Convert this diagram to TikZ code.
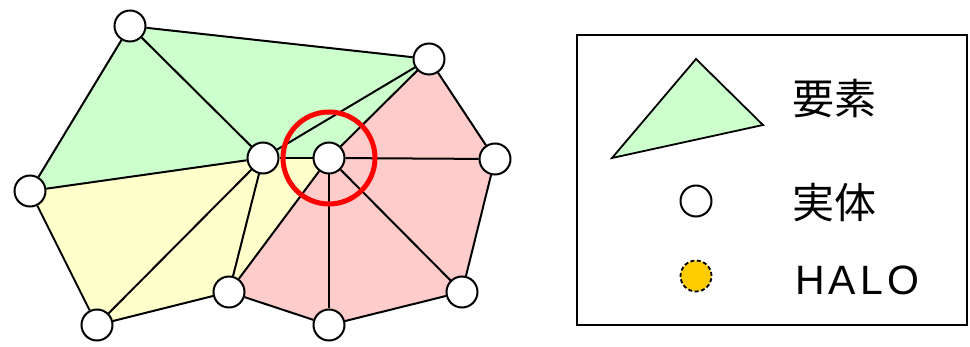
\documentclass[tikz,border=0pt]{standalone}
\usepackage{fontspec}
\newfontfamily\cjk{Noto Sans CJK JP}
\newfontfamily\halofont[LetterSpace=10]{Liberation Sans}
\usetikzlibrary{backgrounds}
\definecolor{elgreen}{HTML}{CCFFCC}
\definecolor{elyellow}{HTML}{FFFFCC}
\definecolor{elred}{HTML}{FFCCCC}
\definecolor{halo}{HTML}{FFCC00}
\tikzset{
  ent/.style={circle,draw=black,fill=white,line width=2pt,minimum size=31pt,inner sep=0pt},
  edge/.style={draw=black,line width=2pt},
  legtext/.style={anchor=west,inner sep=0pt,font=\cjk\fontsize{42}{46}\selectfont},
}
\begin{document}
\begin{tikzpicture}[x=1pt,y=-1pt]
\useasboundingbox (0,0) rectangle (970,347);
% entities
\node[ent] (A) at (130,26) {};
\node[ent] (B) at (429,59) {};
\node[ent] (C) at (30,191) {};
\node[ent] (D) at (263,158) {};
\node[ent] (E) at (329,158) {};
\node[ent] (F) at (495,159) {};
\node[ent] (G) at (97,325) {};
\node[ent] (H) at (229,292) {};
\node[ent] (I) at (329,325) {};
\node[ent] (J) at (462,292) {};
\begin{pgfonlayer}{background}
  \fill[elgreen] (A.center) -- (B.center) -- (E.center) -- (D.center) -- (C.center) -- cycle;
  \fill[elyellow] (C.center) -- (D.center) -- (E.center) -- (H.center) -- (G.center) -- cycle;
  \fill[elred] (E.center) -- (B.center) -- (F.center) -- (J.center) -- (I.center) -- (H.center) -- cycle;
  \draw[edge] (A) -- (B);
  \draw[edge] (A) -- (C);
  \draw[edge] (A) -- (D);
  \draw[edge] (C) -- (D);
  \draw[edge] (D) -- (B);
  \draw[edge] (D) -- (E);
  \draw[edge] (B) -- (E);
  \draw[edge] (C) -- (G);
  \draw[edge] (G) -- (D);
  \draw[edge] (G) -- (H);
  \draw[edge] (D) -- (H);
  \draw[edge] (H) -- (E);
  \draw[edge] (B) -- (F);
  \draw[edge] (E) -- (F);
  \draw[edge] (F) -- (J);
  \draw[edge] (E) -- (J);
  \draw[edge] (J) -- (I);
  \draw[edge] (E) -- (I);
  \draw[edge] (I) -- (H);
\end{pgfonlayer}
% highlight ring
\node[circle,draw=red,line width=5pt,minimum size=92pt,inner sep=0pt] (ring) at (E.center) {};
% legend
\node[draw=black,line width=2pt,minimum width=390pt,minimum height=290pt,inner sep=0pt] (legend) at (772,180) {};
\coordinate (t1) at (696,59);
\coordinate (t2) at (763,125);
\coordinate (t3) at (612,158);
\draw[fill=elgreen,line width=1.8pt,line join=miter] (t1) -- (t2) -- (t3) -- cycle;
\node[ent] (le) at (696,201) {};
\node[circle,draw=black,dashed,dash pattern=on 4pt off 2.5pt,fill=halo,line width=1.8pt,minimum size=31pt,inner sep=0pt] (lh) at (696,276) {};
\node[legtext] (l1) at (792,99) {要素};
\node[legtext] (l2) at (792,203) {実体};
\node[anchor=west,inner sep=0pt,font=\halofont\fontsize{41}{44}\selectfont] (l3) at (795,280) {HALO};
\end{tikzpicture}
\end{document}
